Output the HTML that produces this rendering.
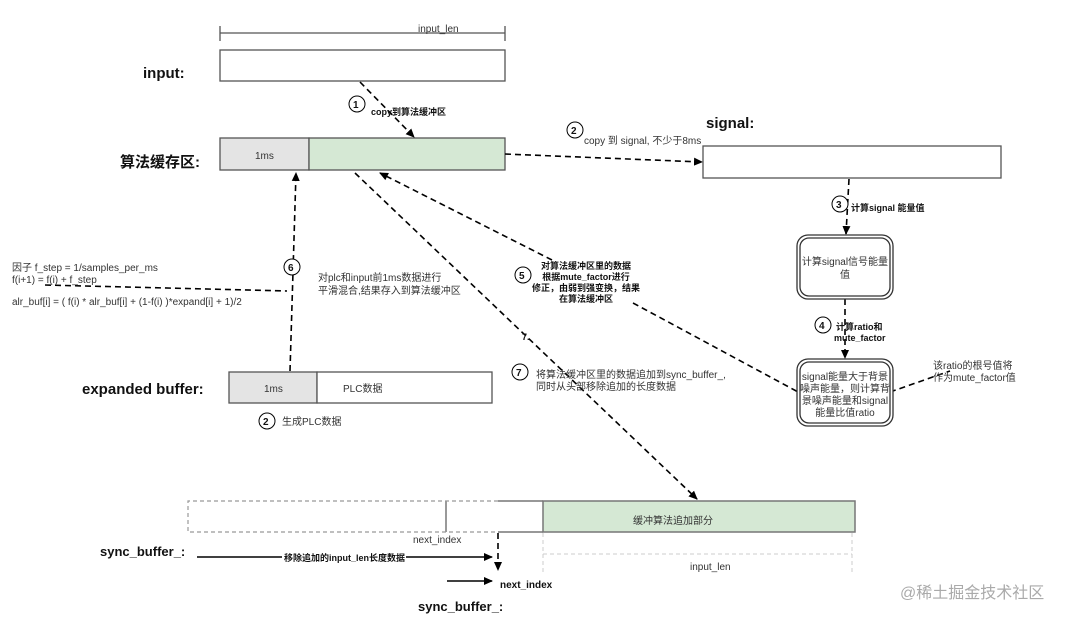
<!DOCTYPE html>
<html><head><meta charset="utf-8"><style>
html,body{margin:0;padding:0;background:#fff;}
svg{display:block;font-family:"Liberation Sans","Noto Sans CJK SC",sans-serif;}
.b{font-weight:bold;fill:#111;}
.t{fill:#333;}
</style></head><body>
<svg width="1080" height="621" viewBox="0 0 1080 621" xmlns="http://www.w3.org/2000/svg">
<defs>
<marker id="ar" markerWidth="10" markerHeight="10" refX="8" refY="5" orient="auto" markerUnits="userSpaceOnUse">
<path d="M0,1 L9,5 L0,9 Z" fill="#000"/></marker>
</defs>
<g stroke="#555" stroke-width="1.3" fill="none">
<line x1="220" y1="33" x2="505" y2="33"/><line x1="220" y1="26" x2="220" y2="41"/><line x1="505" y1="26" x2="505" y2="41"/>
</g>
<text x="418" y="32" font-size="10" class="t">input_len</text>
<rect x="220" y="50" width="285" height="31" fill="#fff" stroke="#555" stroke-width="1.3"/>
<text x="143" y="78" font-size="15" class="b">input:</text>
<rect x="220" y="138" width="89" height="32" fill="#e4e4e4" stroke="#555" stroke-width="1.3"/>
<rect x="309" y="138" width="196" height="32" fill="#d5e8d4" stroke="#555" stroke-width="1.3"/>
<text x="255" y="159" font-size="10" class="t">1ms</text>
<text x="120" y="167" font-size="15" class="b">算法缓存区:</text>

<g stroke="#000" stroke-width="1.6" fill="none" stroke-dasharray="6,4">
<line x1="360" y1="82" x2="414" y2="137" marker-end="url(#ar)"/>
<line x1="505" y1="154" x2="702" y2="162" marker-end="url(#ar)"/>
<line x1="849" y1="179" x2="846" y2="234" marker-end="url(#ar)"/>
<line x1="845" y1="299" x2="845" y2="358" marker-end="url(#ar)"/>
<line x1="552" y1="260" x2="380" y2="173" marker-end="url(#ar)"/>
<line x1="633" y1="303" x2="800" y2="393"/>
<line x1="890" y1="392" x2="950" y2="371"/>
<line x1="355" y1="173" x2="697" y2="499" marker-end="url(#ar)"/>
<line x1="290" y1="371" x2="296" y2="173" marker-end="url(#ar)"/>
<line x1="45" y1="285" x2="287" y2="291"/>
<line x1="498" y1="533" x2="498" y2="570" marker-end="url(#ar)"/>
</g>

<g font-size="10">
<circle cx="357" cy="104" r="8" fill="#fff" stroke="#000"/><text x="353" y="108" class="b">1</text>
<text x="371" y="115" font-size="9" class="b">copy到算法缓冲区</text>
<circle cx="575" cy="130" r="8" fill="#fff" stroke="#000"/><text x="571" y="134" class="b">2</text>
<text x="584" y="144" class="t">copy 到 signal, 不少于8ms</text>
<circle cx="840" cy="204" r="8" fill="#fff" stroke="#000"/><text x="836" y="208" class="b">3</text>
<text x="851" y="211" font-size="9" class="b">计算signal 能量值</text>
<circle cx="823" cy="325" r="8" fill="#fff" stroke="#000"/><text x="819" y="329" class="b">4</text>
<text x="836" y="330" font-size="9" class="b">计算ratio和</text>
<text x="834" y="341" font-size="9" class="b">mute_factor</text>
<circle cx="523" cy="275" r="8" fill="#fff" stroke="#000"/><text x="519" y="279" class="b">5</text>
<g font-size="9" class="b" text-anchor="middle">
<text x="586" y="269">对算法缓冲区里的数据</text>
<text x="586" y="280">根据mute_factor进行</text>
<text x="586" y="291">修正，由弱到强变换，结果</text>
<text x="586" y="302">在算法缓冲区</text>
</g>
<circle cx="292" cy="267" r="8" fill="#fff" stroke="#000"/><text x="288" y="271" class="b">6</text>
<text x="318" y="281" class="t">对plc和input前1ms数据进行</text>
<text x="318" y="294" class="t">平滑混合,结果存入到算法缓冲区</text>
<text x="12" y="271" class="t">因子 f_step = 1/samples_per_ms</text>
<text x="12" y="283" class="t">f(i+1) = f(i) + f_step</text>
<text x="12" y="305" class="t">alr_buf[i] = ( f(i) * alr_buf[i] + (1-f(i) )*expand[i] + 1)/2</text>
<text x="522" y="340" font-size="9" class="b">7.</text>
<circle cx="520" cy="372" r="8" fill="#fff" stroke="#000"/><text x="516" y="376" class="b">7</text>
<text x="536" y="378" class="t">将算法缓冲区里的数据追加到sync_buffer_,</text>
<text x="536" y="390" class="t">同时从头部移除追加的长度数据</text>
<circle cx="267" cy="421" r="8" fill="#fff" stroke="#000"/><text x="263" y="425" class="b">2</text>
<text x="282" y="425" class="t">生成PLC数据</text>
<text x="933" y="369" class="t">该ratio的根号值将</text>
<text x="933" y="381" class="t">作为mute_factor值</text>
</g>

<text x="706" y="128" font-size="15" class="b">signal:</text>
<rect x="703" y="146" width="298" height="32" fill="#fff" stroke="#555" stroke-width="1.3"/>
<rect x="797" y="235" width="96" height="64" rx="11" fill="#fff" stroke="#333" stroke-width="1.3"/>
<rect x="800" y="238" width="90" height="58" rx="9" fill="none" stroke="#333" stroke-width="1.3"/>
<g font-size="10" class="t" text-anchor="middle">
<text x="845" y="265">计算signal信号能量</text><text x="845" y="278">值</text>
</g>
<rect x="797" y="359" width="96" height="67" rx="11" fill="#fff" stroke="#333" stroke-width="1.3"/>
<rect x="800" y="362" width="90" height="61" rx="9" fill="none" stroke="#333" stroke-width="1.3"/>
<g font-size="10" class="t" text-anchor="middle">
<text x="845" y="380">signal能量大于背景</text><text x="845" y="392">噪声能量，则计算背</text>
<text x="845" y="404">景噪声能量和signal</text><text x="845" y="416">能量比值ratio</text>
</g>

<text x="82" y="394" font-size="15" class="b">expanded buffer:</text>
<rect x="229" y="372" width="88" height="31" fill="#e4e4e4" stroke="#555" stroke-width="1.3"/>
<rect x="317" y="372" width="175" height="31" fill="#fff" stroke="#555" stroke-width="1.3"/>
<text x="264" y="392" font-size="10" class="t">1ms</text>
<text x="343" y="392" font-size="10" class="t">PLC数据</text>

<rect x="543" y="501" width="312" height="31" fill="#d5e8d4" stroke="#777" stroke-width="1.5"/>
<line x1="498" y1="501" x2="543" y2="501" stroke="#777" stroke-width="1.5"/>
<line x1="498" y1="532" x2="543" y2="532" stroke="#777" stroke-width="1.5"/>
<line x1="446" y1="501" x2="446" y2="532" stroke="#777" stroke-width="1.5"/>
<path d="M498,501 H188 V532 H498" fill="none" stroke="#999" stroke-width="1.2" stroke-dasharray="4,3"/>
<text x="633" y="524" font-size="10" class="t">缓冲算法追加部分</text>
<g stroke="#ccc" stroke-width="1" stroke-dasharray="4,3" fill="none">
<line x1="543" y1="533" x2="543" y2="575"/><line x1="852" y1="533" x2="852" y2="575"/>
<line x1="543" y1="554" x2="852" y2="554"/>
</g>
<text x="690" y="570" font-size="10" class="t">input_len</text>

<text x="100" y="556" font-size="13" class="b">sync_buffer_:</text>
<line x1="197" y1="557" x2="492" y2="557" stroke="#000" stroke-width="1.6" marker-end="url(#ar)"/>
<rect x="282" y="550" width="124" height="13" fill="#fff"/>
<text x="284" y="561" font-size="9" class="b">移除追加的input_len长度数据</text>
<text x="413" y="543" font-size="10" class="t">next_index</text>
<line x1="447" y1="581" x2="492" y2="581" stroke="#000" stroke-width="1.6" marker-end="url(#ar)"/>
<text x="500" y="588" font-size="10" class="b">next_index</text>
<text x="418" y="611" font-size="13" class="b">sync_buffer_:</text>
<text x="900" y="598" font-size="16" fill="#aaa">@稀土掘金技术社区</text>
</svg>
</body></html>
